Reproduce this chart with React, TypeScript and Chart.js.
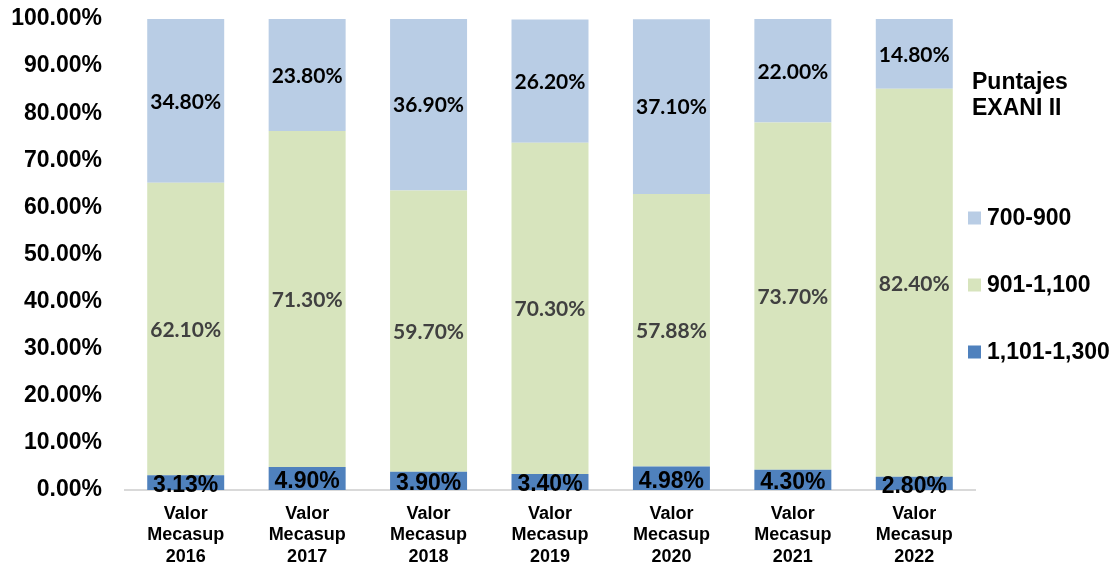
import React, { useEffect, useRef } from 'react';
import { Chart, registerables } from 'chart.js';

Chart.register(...registerables);

const categories: string[][] = [
  ['Valor', 'Mecasup', '2016'],
  ['Valor', 'Mecasup', '2017'],
  ['Valor', 'Mecasup', '2018'],
  ['Valor', 'Mecasup', '2019'],
  ['Valor', 'Mecasup', '2020'],
  ['Valor', 'Mecasup', '2021'],
  ['Valor', 'Mecasup', '2022'],
];

const seriesNames = ['1,101-1,300', '901-1,100', '700-900'];
const values1101to1300 = [3.13, 4.9, 3.9, 3.4, 4.98, 4.3, 2.8];
const values901to1100 = [62.1, 71.3, 59.7, 70.3, 57.88, 73.7, 82.4];
const values700to900 = [34.8, 23.8, 36.9, 26.2, 37.1, 22.0, 14.8];
const seriesColors = ['#4F81BD', '#D7E4BD', '#B9CDE5'];
const legendTitle = ['Puntajes', 'EXANI II'];
const legendOrder = [2, 1, 0];

const labelPlugin = {
  id: 'barLabels',
  afterDatasetsDraw(chart: any) {
    const ctx = chart.ctx;
    ctx.save();
    ctx.textAlign = 'center';
    ctx.textBaseline = 'middle';
    chart.data.datasets.forEach((ds: any, i: number) => {
      const meta = chart.getDatasetMeta(i);
      if (i === 0) {
        ctx.font = 'bold 23px "Liberation Sans", Arial, sans-serif';
        ctx.fillStyle = '#000000';
      } else if (i === 1) {
        ctx.font = 'bold 21px Lato, "Open Sans", sans-serif';
        ctx.fillStyle = '#404040';
      } else {
        ctx.font = 'bold 21px Lato, "Open Sans", sans-serif';
        ctx.fillStyle = '#000000';
      }
      meta.data.forEach((bar: any, j: number) => {
        const v = ds.data[j] as number;
        const top = Math.max(bar.y, chart.chartArea.top);
        const cy = (top + bar.base) / 2 + (i === 0 ? 3 : 1);
        ctx.fillText(v.toFixed(2) + '%', bar.x, cy);
      });
    });
    ctx.restore();
  },
};

const legendPlugin = {
  id: 'customLegend',
  afterDraw(chart: any) {
    const ctx = chart.ctx;
    ctx.save();
    ctx.textAlign = 'left';
    ctx.textBaseline = 'middle';
    ctx.fillStyle = '#000000';
    ctx.font = 'bold 23px "Liberation Sans", Arial, sans-serif';
    ctx.fillText(legendTitle[0], 972, 83);
    ctx.fillText(legendTitle[1], 972, 109);
    const ys = [218, 285, 352];
    legendOrder.forEach((di, k) => {
      ctx.fillStyle = seriesColors[di];
      ctx.fillRect(968, ys[k] - 6.5, 13, 13);
      ctx.fillStyle = '#000000';
      ctx.fillText(seriesNames[di], 987, ys[k] + 1);
    });
    ctx.restore();
  },
};

export default function App() {
  const canvasRef = useRef<HTMLCanvasElement | null>(null);

  useEffect(() => {
    if (!canvasRef.current) return;
    const chart = new Chart(canvasRef.current, {
      type: 'bar',
      data: {
        labels: categories,
        datasets: [
          { label: seriesNames[0], data: values1101to1300, backgroundColor: seriesColors[0] },
          { label: seriesNames[1], data: values901to1100, backgroundColor: seriesColors[1] },
          { label: seriesNames[2], data: values700to900, backgroundColor: seriesColors[2] },
        ],
      },
      options: {
        animation: false,
        responsive: true,
        maintainAspectRatio: false,
        datasets: {
          bar: { categoryPercentage: 1, barPercentage: 0.634 },
        },
        layout: { padding: { top: 19, right: 142, bottom: 0, left: 0 } },
        plugins: {
          legend: { display: false },
          tooltip: { enabled: false },
          title: { display: false },
        },
        scales: {
          x: {
            stacked: true,
            grid: { display: false, drawTicks: false },
            border: { display: true, color: '#D9D9D9', width: 2 },
            ticks: {
              color: '#000000',
              font: { family: '"Liberation Sans", Arial, sans-serif', size: 18, weight: 'bold', lineHeight: 1.2 },
              padding: 13,
              maxRotation: 0,
              autoSkip: false,
            },
            afterFit: (scale: any) => {
              scale.height = 75;
              scale.paddingTop = 0;
              scale.paddingBottom = 0;
            },
          },
          y: {
            stacked: true,
            min: 0,
            max: 100,
            grid: { display: false, drawTicks: false },
            border: { display: false },
            ticks: {
              stepSize: 10,
              color: '#000000',
              font: { family: '"Liberation Sans", Arial, sans-serif', size: 23, weight: 'bold' },
              padding: 23,
              callback: (v: any) => Number(v).toFixed(2) + '%',
            },
            afterFit: (scale: any) => {
              scale.width = 125;
              scale.paddingTop = 0;
              scale.paddingBottom = 0;
            },
          },
        },
      },
      plugins: [labelPlugin, legendPlugin],
    });
    return () => chart.destroy();
  }, []);

  return (
    <div style={{ position: 'absolute', left: 0, top: 0, width: 1117, height: 565, background: '#ffffff' }}>
      <canvas ref={canvasRef} />
    </div>
  );
}
